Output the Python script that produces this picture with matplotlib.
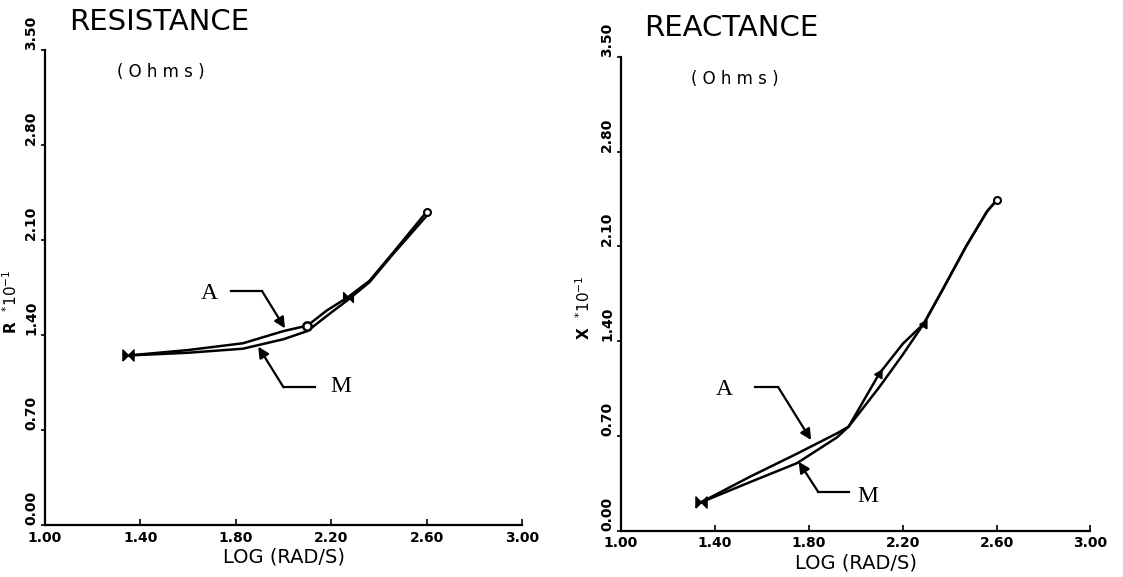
import numpy as np
import matplotlib.pyplot as plt

# log frequency (rad/s) vs resistance / reactance (*10^-1 ohms)
res_x = [1.35, 1.60, 1.83, 2.00, 2.10, 2.18, 2.27, 2.36, 2.46, 2.53, 2.60]
res_a = [1.25, 1.29, 1.34, 1.43, 1.47, 1.58, 1.68, 1.80, 2.01, 2.16, 2.31]
res_m = [1.25, 1.27, 1.30, 1.37, 1.43, 1.54, 1.66, 1.79, 2.00, 2.14, 2.28]

rea_x = [1.34, 1.55, 1.75, 1.92, 1.97, 2.10, 2.20, 2.29, 2.37, 2.47, 2.56, 2.60]
rea_a = [0.21, 0.40, 0.57, 0.72, 0.77, 1.16, 1.38, 1.53, 1.78, 2.10, 2.36, 2.44]
rea_m = [0.21, 0.36, 0.50, 0.69, 0.77, 1.06, 1.30, 1.53, 1.78, 2.10, 2.36, 2.44]

xticks = [1.00, 1.40, 1.80, 2.20, 2.60, 3.00]
yticks = [0.00, 0.70, 1.40, 2.10, 2.80, 3.50]

bowtie = [(-1, -1), (-1, 1), (1, -1), (1, 1), (-1, -1)]

fig = plt.figure(figsize=(11.23, 5.77), dpi=100)
axL = fig.add_axes([0.040, 0.090, 0.425, 0.823])
axR = fig.add_axes([0.553, 0.080, 0.418, 0.8215])


def setup(ax, title, ylab, ylab_x):
    ax.set_xlim(1.0, 3.0)
    ax.set_ylim(0.0, 3.5)
    ax.spines['top'].set_visible(False)
    ax.spines['right'].set_visible(False)
    ax.spines['left'].set_linewidth(1.6)
    ax.spines['bottom'].set_linewidth(1.6)
    ax.set_xticks(xticks)
    ax.set_yticks(yticks)
    ax.set_xticklabels(['%.2f' % v for v in xticks], fontweight='bold', fontsize=10)
    ax.set_yticklabels(['%.2f' % v for v in yticks], fontweight='bold', fontsize=10,
                       rotation=90, va='bottom')
    ax.tick_params(axis='x', direction='in', length=4, width=1.2, pad=4)
    ax.tick_params(axis='y', direction='out', length=3, width=1.2, pad=2)
    for lab in ax.get_yticklabels():
        lab.set_y(lab.get_position()[1])
    ax.set_xlabel('LOG (RAD/S)', fontsize=14, labelpad=2)
    ax.text(0.05, 1.06, title, transform=ax.transAxes, fontsize=21,
            va='center', ha='left')
    ax.text(0.15, 0.954, '( O h m s )', transform=ax.transAxes, fontsize=12,
            va='center', ha='left')
    ax.text(ylab_x, 0.47, ylab + '  $^{*}10^{-1}$', transform=ax.transAxes,
            rotation=90, fontsize=11, fontweight='bold', va='center', ha='center')


def leader(ax, label, txt, corner1, corner2, tip):
    ax.text(txt[0], txt[1], label, fontsize=17, family='Liberation Serif',
            ha='center', va='center')
    ax.plot([corner1[0], corner2[0]], [corner1[1], corner2[1]], color='black', lw=1.6)
    ax.annotate('', xy=tip, xytext=corner2,
                arrowprops=dict(arrowstyle='-|>', color='black', lw=1.6,
                                mutation_scale=16, shrinkA=0, shrinkB=0))


setup(axL, 'RESISTANCE', 'R', -0.072)
setup(axR, 'REACTANCE', 'X', -0.080)

# resistance panel
axL.plot(res_x, res_a, color='black', lw=1.8)
axL.plot(res_x, res_m, color='black', lw=1.8)
axL.plot(res_x[0], res_a[0], marker=bowtie, ms=8, color='black')
axL.plot(res_x[4], res_a[4], marker='o', ms=6, mfc='white', mec='black', mew=1.8)
axL.plot(res_x[6], res_a[6], marker=bowtie, ms=7, color='black')
axL.plot(res_x[-1], res_a[-1], marker='o', ms=5, mfc='white', mec='black', mew=1.5)
leader(axL, 'A', (1.69, 1.71), (1.78, 1.724), (1.91, 1.724), (2.006, 1.45))
leader(axL, 'M', (2.24, 1.02), (2.13, 1.015), (2.00, 1.015), (1.894, 1.315))

# reactance panel
axR.plot(rea_x, rea_a, color='black', lw=1.8)
axR.plot(rea_x, rea_m, color='black', lw=1.8)
axR.plot(rea_x[0], rea_a[0], marker=bowtie, ms=8, color='black')
axR.plot(rea_x[5], rea_a[5], marker=(3, 0, -30), ms=7, color='black')
axR.plot(rea_x[7], rea_a[7], marker=(3, 0, -30), ms=7, color='black')
axR.plot(rea_x[-1], rea_a[-1], marker='o', ms=5, mfc='white', mec='black', mew=1.5)
leader(axR, 'A', (1.44, 1.04), (1.57, 1.06), (1.67, 1.06), (1.81, 0.67))
leader(axR, 'M', (2.05, 0.25), (1.97, 0.288), (1.84, 0.288), (1.757, 0.51))

fig.savefig('out.png', dpi=100)
